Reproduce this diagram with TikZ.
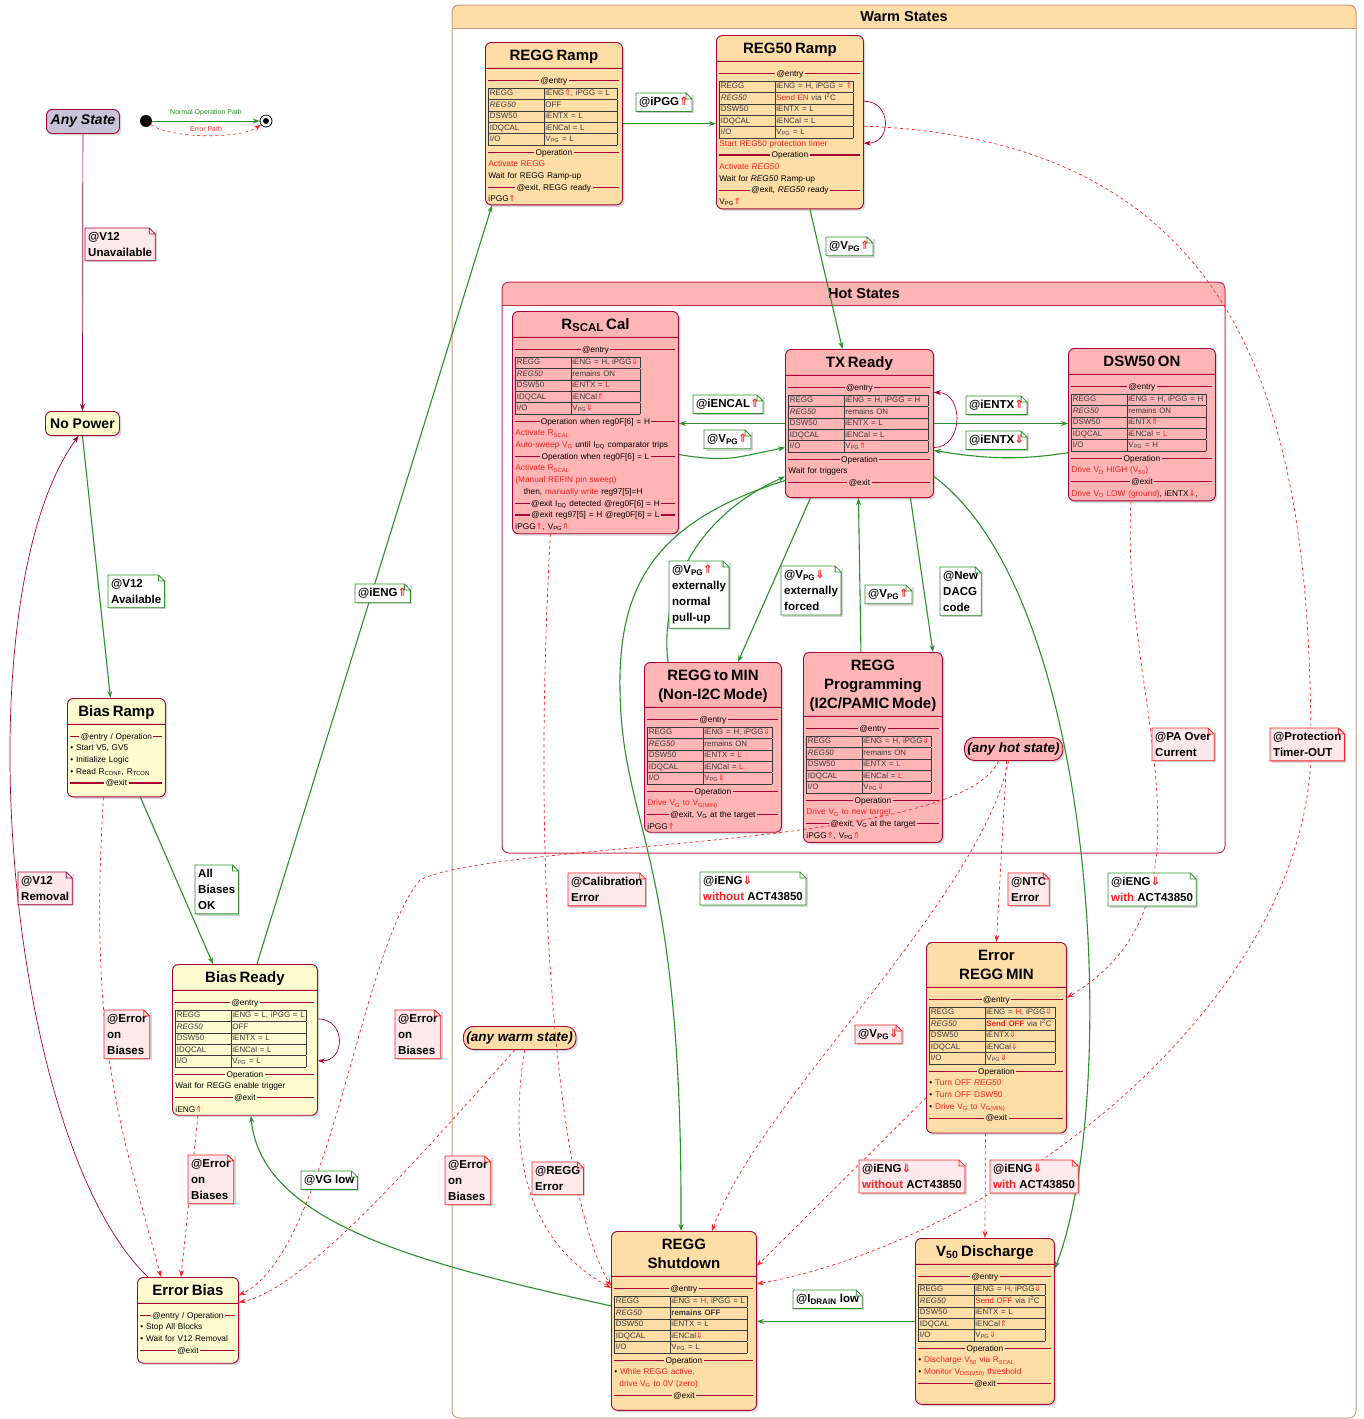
\documentclass[tikz,border=0pt]{standalone}
\usepackage{fontspec}
\setmainfont{Liberation Sans}
\newfontfamily\arrowfont{DejaVu Sans}
\usetikzlibrary{shapes.multipart,shadows,arrows.meta}

\definecolor{stateedge}{HTML}{A80036}
\definecolor{warmfill}{HTML}{FFDDA6}
\definecolor{hotfill}{HTML}{FFB5B5}
\definecolor{coolfill}{HTML}{FEFCCF}
\definecolor{anyfill}{HTML}{C8C3D8}
\definecolor{warmedge}{HTML}{D09A7C}
\definecolor{hotedge}{HTML}{C2304F}
\definecolor{gogreen}{HTML}{2B912B}
\definecolor{errred}{HTML}{FF2020}
\definecolor{notepink}{HTML}{FDE8EC}
\definecolor{tabline}{HTML}{3A3A3A}

\renewcommand\arraystretch{0.94}
\newcommand\rd[1]{\textcolor{errred}{#1}}
\newcommand\upa{\textcolor{errred}{\arrowfont\char"21D1}}
\newcommand\dna{\textcolor{errred}{\arrowfont\char"21D3}}
\newcommand\ttl[1]{{\centering\fontsize{15}{19}\selectfont\bfseries\rule{0pt}{15pt}#1\rule[-5pt]{0pt}{5pt}\par}}
\newcommand\sep[1]{\par\noindent\makebox[\hsize]{\rule{0pt}{8pt}\textcolor{stateedge}{\leaders\hrule height 3.4pt depth -2.2pt\hfill}\,#1\,\textcolor{stateedge}{\leaders\hrule height 3.4pt depth -2.2pt\hfill}}\par}
\newcommand\pad[1]{\par\vspace{#1}\hrule height 0pt}
\newcommand\regtab[6]{\par\vspace{2pt}\noindent{\fontsize{7.9}{11.7}\selectfont\color{tabline}\begin{tabular}{|@{\,}p{54pt}@{}|@{\,}p{#1}@{}|}\hline
	REGG & \mbox{#2}\\\hline
	\textit{REG50} & \mbox{#3}\\\hline
	DSW50 & \mbox{#4}\\\hline
	IDQCAL & \mbox{#5}\\\hline
	I/O & \mbox{#6}\\\hline
\end{tabular}}\par\vspace{1pt}}
\newcommand\tagnote[4]{%
	\node[#1] (#2) at (#3) {#4};
	\fill[white] ([xshift=-6pt]#2.north east) -- (#2.north east) -- ([yshift=-6pt]#2.north east) -- cycle;
	\draw[#1 rim] (#2.north west) -- ([xshift=-6pt]#2.north east) -- ([yshift=-6pt]#2.north east) -- (#2.south east) -- (#2.south west) -- cycle ([xshift=-6pt]#2.north east) |- ([yshift=-6pt]#2.north east);}

\tikzset{
	shade/.style={drop shadow={shadow xshift=2pt, shadow yshift=-2pt, opacity=0.3}},
	state/.style={rectangle split, rectangle split parts=2, draw=stateedge, line width=0.9pt, rounded corners=6pt, anchor=north west, align=left, inner xsep=3pt, inner ysep=2.5pt, font=\fontsize{8.3}{11.7}\selectfont, shade},
	warm/.style={state, fill=warmfill},
	hot/.style={state, fill=hotfill},
	cool/.style={state, fill=coolfill},
	plain/.style={draw=stateedge, line width=0.9pt, rounded corners=6pt, anchor=north west, minimum height=24pt, font=\fontsize{14}{16}\selectfont\bfseries, shade},
	pill/.style={draw=stateedge, line width=0.9pt, rounded corners=10pt, anchor=north west, minimum height=23pt, inner xsep=3pt, font=\fontsize{13.5}{15}\selectfont\bfseries\itshape, shade},
	note/.style={anchor=north west, inner xsep=3pt, inner ysep=4pt, align=left, font=\fontsize{11.5}{16}\selectfont\bfseries, shade},
	gonote/.style={note, fill=white},
	gonote rim/.style={draw=gogreen, line width=0.8pt},
	errnote/.style={note, fill=notepink},
	errnote rim/.style={draw=errred, line width=0.8pt},
	pwrnote/.style={note, fill=notepink},
	pwrnote rim/.style={draw=stateedge, line width=0.8pt},
	go/.style={->, draw=gogreen, line width=1.1pt},
	err/.style={->, draw=errred, dashed, line width=0.7pt},
	pwr/.style={->, draw=stateedge, line width=0.7pt},
}

\begin{document}
\begin{tikzpicture}[x=1pt, y=-1pt, >={Stealth[length=7pt,width=5pt]}]
	\fill[white] (0,0) rectangle (1363,1419);
	\useasboundingbox (0,0) rectangle (1363,1419);

	% composite states
	\begin{scope}
		\clip[rounded corners=7pt] (452,5) rectangle (1356,1418);
		\fill[warmfill] (452,5) rectangle (1356,28);
	\end{scope}
	\draw[warmedge, line width=1pt, rounded corners=7pt] (452,5) rectangle (1356,1418);
	\draw[warmedge, line width=1pt] (452,28) -- (1356,28);
	\node[font=\fontsize{14.5}{16}\selectfont\bfseries] (warmtitle) at (904,16.5) {Warm States};
	\begin{scope}
		\clip[rounded corners=7pt] (502,282) rectangle (1225,853);
		\fill[hotfill] (502,282) rectangle (1225,305);
	\end{scope}
	\draw[hotedge, line width=1pt, rounded corners=7pt] (502,282) rectangle (1225,853);
	\draw[hotedge, line width=1pt] (502,305) -- (1225,305);
	\node[font=\fontsize{14.5}{16}\selectfont\bfseries] (hottitle) at (864,293.5) {Hot States};

	% legend
	\node[plain, fill=anyfill, minimum width=73pt, inner xsep=2pt, font=\fontsize{14}{16}\selectfont\bfseries\itshape] (anystate) at (46,109) {Any State};
	\node[circle, fill=black, minimum size=12pt, inner sep=0pt] (lgstart) at (146,121) {};
	\node[circle, draw=black, fill=white, line width=0.8pt, minimum size=12pt, inner sep=0pt] (lgend) at (266,121) {};
	\node[circle, fill=black, minimum size=6pt, inner sep=0pt] (lgdot) at (lgend) {};
	\draw[go, line width=0.9pt] (lgstart) -- (lgend);
	\draw[err, line width=0.6pt] (lgstart) .. controls +(25,18) and +(-25,18) .. (lgend);
	\node[text=gogreen, font=\fontsize{7}{8}\selectfont] (lgnormal) at (206,113) {Normal Operation Path};
	\node[text=errred, font=\fontsize{7}{8}\selectfont] (lgerror) at (206,129) {Error Path};

	% cold states
	\node[plain, fill=coolfill, minimum width=74pt, inner xsep=2pt] (nopower) at (45,411) {No Power};
	\node[cool, text width=92pt] (biasramp) at (67,698) {\ttl{Bias Ramp}\nodepart{two}\sep{@entry / Operation}\textbullet\ Start V5, GV5\par\textbullet\ Initialize Logic\par\textbullet\ Read R\textsubscript{CONF}, R\textsubscript{TCON}\sep{@exit}\pad{7pt}};
	\node[cool, text width=139pt] (biasready) at (172,964) {\ttl{Bias Ready}\nodepart{two}\sep{@entry}\regtab{74pt}{iENG = L, iPGG = L}{OFF}{iENTX = L}{iENCal = L}{V\textsubscript{PG} = L}\sep{Operation}Wait for REGG enable trigger\sep{@exit}iENG\upa};
	\node[cool, text width=95pt] (errbias) at (137,1277) {\ttl{Error Bias}\nodepart{two}\sep{@entry / Operation}\textbullet\ Stop All Blocks\par\textbullet\ Wait for V12 Removal\sep{@exit}\pad{6pt}};

	% warm states
	\node[warm, text width=131pt] (reggramp) at (485,42) {\ttl{REGG Ramp}\nodepart{two}\sep{@entry}\regtab{72pt}{iENG\upa, iPGG = L}{OFF}{iENTX = L}{iENCal = L}{V\textsubscript{PG} = L}\sep{Operation}\rd{Activate REGG}\par Wait for REGG Ramp-up\sep{@exit, REGG ready}iPGG\upa};
	\node[warm, text width=141pt] (reg50) at (716,35) {\ttl{REG50 Ramp}\nodepart{two}\sep{@entry}\regtab{77pt}{iENG = H, iPGG = \upa}{\rd{Send EN} via I\textsuperscript{2}C}{iENTX = L}{iENCal = L}{V\textsubscript{PG} = L}\rd{Start REG50 protection timer}\sep{Operation}\rd{Activate \textit{REG50}}\par Wait for \textit{REG50} Ramp-up\sep{@exit, \textit{REG50} ready}V\textsubscript{PG}\upa};
	\node[warm, text width=134pt] (errmin) at (926,942) {\ttl{Error\\REGG MIN}\nodepart{two}\sep{@entry}\regtab{69pt}{iENG = \rd{H}, iPGG\dna}{\rd{\textbf{Send OFF}} via I\textsuperscript{2}C}{iENTX\dna}{iENCal\dna}{V\textsubscript{PG}\dna}\sep{Operation}\textbullet\ \rd{Turn OFF \textit{REG50}}\par\textbullet\ \rd{Turn OFF DSW50}\par\textbullet\ \rd{Drive V\textsubscript{G} to V\textsubscript{G(MIN)}}\sep{@exit}\pad{8pt}};
	\node[warm, text width=139pt] (rshutdown) at (611,1231) {\ttl{REGG\\Shutdown}\nodepart{two}\sep{@entry}\regtab{76pt}{iENG = \rd{H}, iPGG = L}{\textbf{remains OFF}}{iENTX = L}{iENCal\dna}{V\textsubscript{PG} = L}\sep{Operation}\textbullet\ \rd{While REGG active,}\par\hspace*{0.6em}\rd{drive V\textsubscript{G} to 0V (zero)}\sep{@exit}\pad{8pt}};
	\node[warm, text width=133pt] (v50) at (915,1238) {\ttl{V\textsubscript{50} Discharge}\nodepart{two}\sep{@entry}\regtab{70pt}{iENG = \rd{H}, iPGG\dna}{\rd{Send OFF} via I\textsuperscript{2}C}{iENTX = L}{iENCal\upa}{V\textsubscript{PG}\dna}\sep{Operation}\textbullet\ \rd{Discharge V\textsubscript{50} via R\textsubscript{SCAL}}\par\textbullet\ \rd{Monitor V\textsubscript{DIS(V50)} threshold}\sep{@exit}\pad{14pt}};
	\node[pill, fill=warmfill] (anywarm) at (463,1026) {(any warm state)};

	% hot states
	\node[hot, text width=160pt] (rscal) at (512,311) {\ttl{R\raisebox{-2pt}{\fontsize{11.5}{11}\selectfont SCAL} Cal}\nodepart{two}\sep{@entry}\regtab{68pt}{iENG = H, iPGG\dna}{remains ON}{iENTX = \rd{L}}{iENCal\upa}{V\textsubscript{PG}\dna}\sep{Operation when reg0F[6] = H}\rd{Activate R\textsubscript{SCAL}}\par\rd{Auto-sweep V\textsubscript{G}} until I\textsubscript{DQ} comparator trips\sep{Operation when reg0F[6] = L}\rd{Activate R\textsubscript{SCAL}}\par\rd{(Manual REFIN pin sweep)}\par\hspace*{1em}then, \rd{manually write} reg97[5]=H\sep{@exit I\textsubscript{DQ} detected @reg0F[6] = H}\sep{@exit reg97[5] = H @reg0F[6] = L}iPGG\upa, V\textsubscript{PG}\upa};
	\node[hot, text width=142pt] (txready) at (785,349) {\ttl{TX Ready}\nodepart{two}\sep{@entry}\regtab{83pt}{iENG = H, iPGG = H}{remains ON}{iENTX = L}{iENCal = L}{V\textsubscript{PG}\upa}\sep{Operation}Wait for triggers\sep{@exit}\pad{8pt}};
	\node[hot, text width=141pt] (dsw50) at (1068,348) {\ttl{DSW50 ON}\nodepart{two}\sep{@entry}\regtab{78pt}{iENG = H, iPGG = H}{remains ON}{iENTX\upa}{iENCal = \rd{L}}{V\textsubscript{PG} = H}\sep{Operation}\rd{Drive V\textsubscript{D} HIGH (V\textsubscript{50})}\sep{@exit}\rd{Drive V\textsubscript{D} LOW (ground)}, iENTX\dna,};
	\node[hot, text width=131pt] (regtomin) at (644,662) {\ttl{REGG to MIN\\(Non-I2C Mode)}\nodepart{two}\sep{@entry}\regtab{68pt}{iENG = H, iPGG\dna}{remains ON}{iENTX = \rd{L}}{iENCal = \rd{L}}{V\textsubscript{PG}\dna}\sep{Operation}\rd{Drive V\textsubscript{G} to V\textsubscript{G(MIN)}}\sep{@exit, V\textsubscript{G} at the target}iPGG\upa};
	\node[hot, text width=133pt] (reggprog) at (803,652) {\ttl{REGG\\Programming\\(I2C/PAMIC Mode)}\nodepart{two}\sep{@entry}\regtab{68pt}{iENG = H, iPGG\dna}{remains ON}{iENTX = \rd{L}}{iENCal = \rd{L}}{V\textsubscript{PG}\dna}\sep{Operation}\rd{Drive V\textsubscript{G} to new target}\sep{@exit, V\textsubscript{G} at the target}iPGG\upa, V\textsubscript{PG}\upa};
	\node[pill, fill=hotfill] (anyhot) at (964,737) {(any hot state)};

	% normal transitions
	\path (anystate) edge[pwr] (nopower);
	\path (nopower.south) edge[go] ([xshift=-6pt]biasramp.north);
	\path ([xshift=24pt]biasramp.south) edge[go] ([xshift=-32pt]biasready.north);
	\path ([xshift=12pt]biasready.north) edge[go] ([xshift=-62pt]reggramp.south);
	\draw[pwr] ([yshift=21pt]biasready.east) .. controls +(28,0) and +(28,0) .. ([yshift=-21pt]biasready.east);
	\draw[pwr] ([xshift=-40pt]errbias.north) .. controls (5,1140) and (-40,600) .. ([xshift=-4pt]nopower.south);
	\draw[go] ([yshift=15pt]rshutdown.west) .. controls +(-180,-40) and +(10,110) .. ([xshift=6pt]biasready.south);
	\path (reggramp.east) edge[go] (reggramp.east -| reg50.west);
	\draw[pwr] ([yshift=21pt]reg50.east) .. controls +(28,0) and +(28,0) .. ([yshift=-21pt]reg50.east);
	\path ([xshift=20pt]reg50.south) edge[go] ([xshift=-17pt]txready.north);
	\path (txready.west) edge[go] (txready.west -| rscal.east);
	\draw[go] ([yshift=-32pt]rscal.east) .. controls +(50,8) and +(-50,10) .. ([yshift=-24pt]txready.west);
	\draw[pwr] ([yshift=-24pt]txready.east) .. controls +(30,0) and +(30,0) .. ([yshift=31pt]txready.east);
	\path (txready.east) edge[go] (txready.east -| dsw50.west);
	\draw[go] ([yshift=-28pt]dsw50.west) .. controls +(-50,8) and +(50,8) .. ([yshift=-27pt]txready.east);
	\path ([xshift=-49pt]txready.south) edge[go] ([xshift=25pt]regtomin.north);
	\draw[go] ([xshift=-45pt]regtomin.north) .. controls +(-8,-70) and +(-90,40) .. ([yshift=-53pt]txready.west);
	\path ([xshift=51pt]txready.south) edge[go] ([xshift=60pt]reggprog.north);
	\path ([xshift=-12pt]reggprog.north) edge[go] ([xshift=-1pt]txready.south);
	\draw[go] ([yshift=-53pt]txready.east) .. controls (1100,600) and (1120,1100) .. ([yshift=53pt]v50.east);
	\draw[go] ([yshift=-57pt]txready.west) .. controls (660,520) and (618,580) .. (620,690) .. controls (622,830) and (683,850) .. ([xshift=-3pt]rshutdown.north);
	\path (v50.west) edge[go] (v50.west -| rshutdown.east);

	% error transitions
	\draw[err] ([xshift=-13pt]biasramp.south) .. controls +(-15,250) and +(-40,-150) .. ([xshift=-27pt]errbias.north);
	\path ([xshift=-47pt]biasready.south) edge[err] ([xshift=-7pt]errbias.north);
	\draw[err] ([yshift=-4pt]reg50.east) .. controls (1250,140) and (1310,420) .. (1311,745) .. controls (1312,1000) and (1000,1240) .. ([yshift=37pt]rshutdown.east);
	\draw[err] ([xshift=-11pt]dsw50.south) .. controls (1120,700) and (1230,900) .. ([yshift=40pt]errmin.east);
	\draw[err] ([xshift=-45pt]rscal.south) .. controls (530,900) and (560,1200) .. ([yshift=35pt]rshutdown.west);
	\path ([xshift=-7pt]anyhot.south) edge[err] (errmin.north);
	\draw[err] ([xshift=-5pt]anyhot.south) .. controls (980,900) and (760,1100) .. ([xshift=28pt]rshutdown.north);
	\draw[err] ([xshift=-15pt]anyhot.south) .. controls (960,850) and (500,840) .. (420,880) .. controls (360,950) and (330,1250) .. ([yshift=25pt]errbias.east);
	\draw[err] ([yshift=-60pt]errmin.west) .. controls +(-60,60) and +(40,-40) .. ([yshift=55pt]rshutdown.east);
	\path ([xshift=-11pt]errmin.south) edge[err] (v50.north);
	\draw[err] ([xshift=-5pt]anywarm.south) .. controls (400,1180) and (300,1290) .. ([yshift=18pt]errbias.east);
	\draw[err] ([xshift=5pt]anywarm.south) .. controls (500,1200) and (560,1260) .. ([yshift=33pt]rshutdown.west);

	% transition notes
	\tagnote{pwrnote}{nunavail}{85,228}{@V12\\Unavailable}
	\tagnote{gonote}{navail}{108,575}{@V12\\Available}
	\tagnote{gonote}{nbiasok}{195,865}{All\\Biases\\OK}
	\tagnote{gonote}{nieng}{355,584}{@iENG\upa}
	\tagnote{pwrnote}{nremoval}{18,872}{@V12\\Removal}
	\tagnote{errnote}{nerrone}{104,1010}{@Error\\on\\Biases}
	\tagnote{errnote}{nerrtwo}{188,1155}{@Error\\on\\Biases}
	\tagnote{gonote}{nvglow}{301,1171}{@VG low}
	\tagnote{errnote}{nerrthree}{395,1010}{@Error\\on\\Biases}
	\tagnote{errnote}{nerrfour}{445,1156}{@Error\\on\\Biases}
	\tagnote{errnote}{nreggerr}{532,1162}{@REGG\\Error}
	\tagnote{gonote}{nipgg}{636,93}{@iPGG\upa}
	\tagnote{gonote}{nvpgone}{826,237}{@V\textsubscript{PG}\upa}
	\tagnote{gonote}{niencal}{693,395}{@iENCAL\upa}
	\tagnote{gonote}{nvpgtwo}{704,430}{@V\textsubscript{PG}\upa}
	\tagnote{gonote}{nientxup}{966,396}{@iENTX\upa}
	\tagnote{gonote}{nientxdn}{966,431}{@iENTX\dna}
	\tagnote{gonote}{npullup}{669,561}{@V\textsubscript{PG}\upa\\externally\\normal\\pull-up}
	\tagnote{gonote}{nforced}{781,566}{@V\textsubscript{PG}\dna\\externally\\forced}
	\tagnote{gonote}{nvpgthree}{865,585}{@V\textsubscript{PG}\upa}
	\tagnote{gonote}{ndacg}{940,567}{@New\\DACG\\code}
	\tagnote{errnote}{npaover}{1152,728}{@PA Over\\Current}
	\tagnote{errnote}{ntimer}{1270,728}{@Protection\\Timer-OUT}
	\tagnote{errnote}{ncalib}{568,873}{@Calibration\\Error}
	\tagnote{gonote}{nwithouta}{700,872}{@iENG\dna\\\rd{without} ACT43850}
	\tagnote{errnote}{nntc}{1008,873}{@NTC\\Error}
	\tagnote{gonote}{nwitha}{1108,873}{@iENG\dna\\\rd{with} ACT43850}
	\tagnote{errnote}{nvpgdn}{855,1025}{@V\textsubscript{PG}\dna}
	\tagnote{errnote}{nwithoutb}{859,1160}{@iENG\dna\\\rd{without} ACT43850}
	\tagnote{errnote}{nwithb}{990,1160}{@iENG\dna\\\rd{with} ACT43850}
	\tagnote{gonote}{nidrain}{793,1290}{@I\textsubscript{DRAIN} low}
\end{tikzpicture}
\end{document}
